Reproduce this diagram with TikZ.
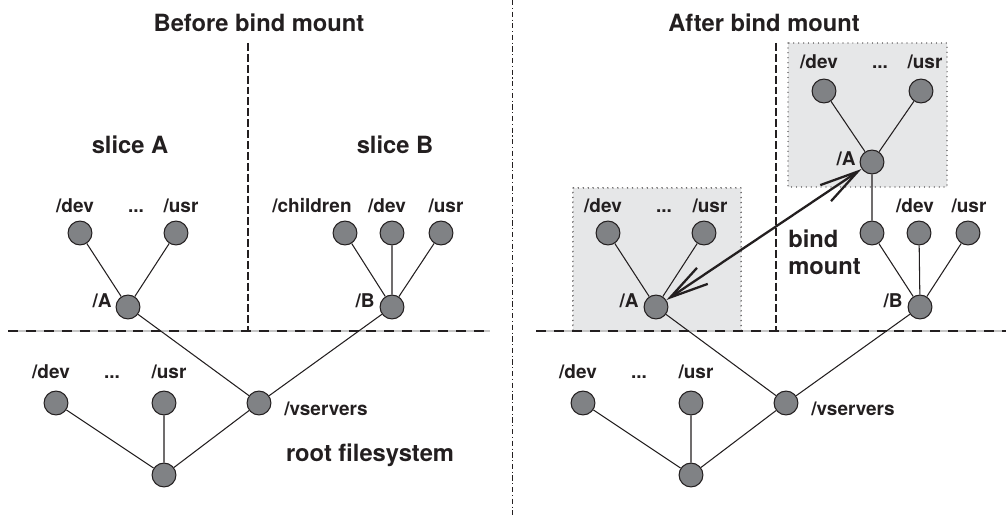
\documentclass[tikz,border=0pt]{standalone}
\usepackage{fontspec}
\setmainfont{TeX Gyre Heros}
\usetikzlibrary{arrows.meta}
\definecolor{ink}{HTML}{231F20}
\definecolor{dirgray}{HTML}{808285}
\definecolor{boxgray}{HTML}{E6E7E8}
\tikzset{
  dir/.style={circle,draw=ink,fill=dirgray,line width=0.6pt,minimum size=13.6pt,inner sep=0pt},
  lbl/.style={font=\bfseries\fontsize{10.8}{13}\selectfont,text=ink,inner sep=0pt,text height=7.8pt,text depth=0.3pt},
  head/.style={font=\bfseries\fontsize{13.5}{15.3}\selectfont,text=ink,inner sep=0pt},
  link/.style={draw=ink,line width=0.6pt},
  mountbox/.style={fill=boxgray,draw=ink,line width=0.7pt,line cap=round,dash pattern=on 0pt off 2.8pt},
  slicesep/.style={draw=ink,line width=0.6pt,dash pattern=on 4.5pt off 1.7pt},
}

\begin{document}
\begin{tikzpicture}[x=0.02cm,y=-0.02cm,line join=round,>={Straight Barb[length=22pt,width=11pt]}]
	\useasboundingbox (0,0) rectangle (1006,517);
	% shaded trees that take part in the mount
	\fill[mountbox] (573,188) rectangle (741,330);
	\fill[boxgray] (788,43) rectangle (947,187);
	\draw[mountbox] (573,330)--(573,188)--(741,188)--(741,330) (788,43) rectangle (947,187);
	% separators
	\draw[ink,line width=0.5pt,dash pattern=on 3pt off 1.5pt on 0.6pt off 1.5pt] (512,0)--(512,517);
	\foreach \a/\b in {8/490,536/1006}
	{\draw[gray!45,line width=0.8pt] (\a,331)--(\b,331);
		\draw[ink,line width=0.8pt,dash pattern=on 5.7pt off 4.5pt] (\a,331)--(\b,331);}
	\draw[slicesep] (248,43)--(248,331) (776,43)--(776,331);
	\node[head] (before) at (259,23) {Before bind mount};
	\node[head] (after) at (764,23) {After bind mount};
	\node[head] (sliceA) at (130,145) {slice A};
	\node[head] (sliceB) at (395,145) {slice B};
	% root filesystem, the same on both sides
	\foreach \p/\dx in {L/0,R/527}
	{\node[dir] (\p root) at (164+\dx,475) {};
		\node[dir] (\p dev) at (56+\dx,403) {};
		\node[dir] (\p usr) at (164+\dx,403) {};
		\node[dir] (\p vs) at (259+\dx,403) {};
		\node[lbl] (\p devl) at (51+\dx,372) {/dev};
		\node[lbl] (\p dots) at (112+\dx,372) {...};
		\node[lbl] (\p usrl) at (169+\dx,372) {/usr};
		\node[lbl] (\p vsl) at (326+\dx,409) {/vservers};
		\draw[link] (\p root)--(\p dev) (\p root)--(\p usr) (\p root)--(\p vs);}
	\node[head] (rootfs) at (370,455) {root filesystem};
	% before: slice A and slice B
	\node[dir] (aA) at (128,307) {};
	\node[dir] (adev) at (80,233) {};
	\node[dir] (ausr) at (176,233) {};
	\node[lbl] (aAl) at (102,301) {/A};
	\node[lbl] (adevl) at (75,206) {/dev};
	\node[lbl] (adots) at (136,206) {...};
	\node[lbl] (ausrl) at (181,206) {/usr};
	\node[dir] (bB) at (392,307) {};
	\node[dir] (bch) at (345,233) {};
	\node[dir] (bdev) at (392,233) {};
	\node[dir] (busr) at (441,233) {};
	\node[lbl] (bBl) at (365,301) {/B};
	\node[lbl] (bchl) at (312,206) {/children};
	\node[lbl] (bdevl) at (387,206) {/dev};
	\node[lbl] (busrl) at (446,206) {/usr};
	\draw[link] (aA)--(adev) (aA)--(ausr) (aA)--(Lvs)
		(bB)--(bch) (bB)--(bdev) (bB)--(busr) (bB)--(Lvs);
	% after: slice A hangs below /children of slice B
	\node[dir] (cA) at (656,307) {};
	\node[dir] (cdev) at (608,233) {};
	\node[dir] (cusr) at (704,233) {};
	\node[lbl] (cAl) at (629,301) {/A};
	\node[lbl] (cdevl) at (603,206) {/dev};
	\node[lbl] (cdots) at (664,206) {...};
	\node[lbl] (cusrl) at (710,206) {/usr};
	\node[dir] (dB) at (920,307) {};
	\node[dir] (dch) at (872,233) {};
	\node[dir] (ddev) at (919,233) {};
	\node[dir] (dusr) at (968,233) {};
	\node[lbl] (dBl) at (893,301) {/B};
	\node[lbl] (ddevl) at (915,206) {/dev};
	\node[lbl] (dusrl) at (969,206) {/usr};
	\node[dir] (eA) at (872,162) {};
	\node[dir] (edev) at (824,91) {};
	\node[dir] (eusr) at (921,91) {};
	\node[lbl] (eAl) at (846,159) {/A};
	\node[lbl] (edevl) at (819,62) {/dev};
	\node[lbl] (edots) at (880,62) {...};
	\node[lbl] (eusrl) at (925,62) {/usr};
	\draw[link] (cA)--(cdev) (cA)--(cusr) (cA)--(Rvs)
		(dB)--(dch) (dB)--(ddev) (dB)--(dusr) (dB)--(Rvs)
		(eA)--(edev) (eA)--(eusr) (eA)--(dch);
	\node[head,align=left,anchor=west] (bind) at (788,252) {bind\\mount};
	\draw[<->,ink,line width=1.3pt] (cA)--(eA);
\end{tikzpicture}
\end{document}
